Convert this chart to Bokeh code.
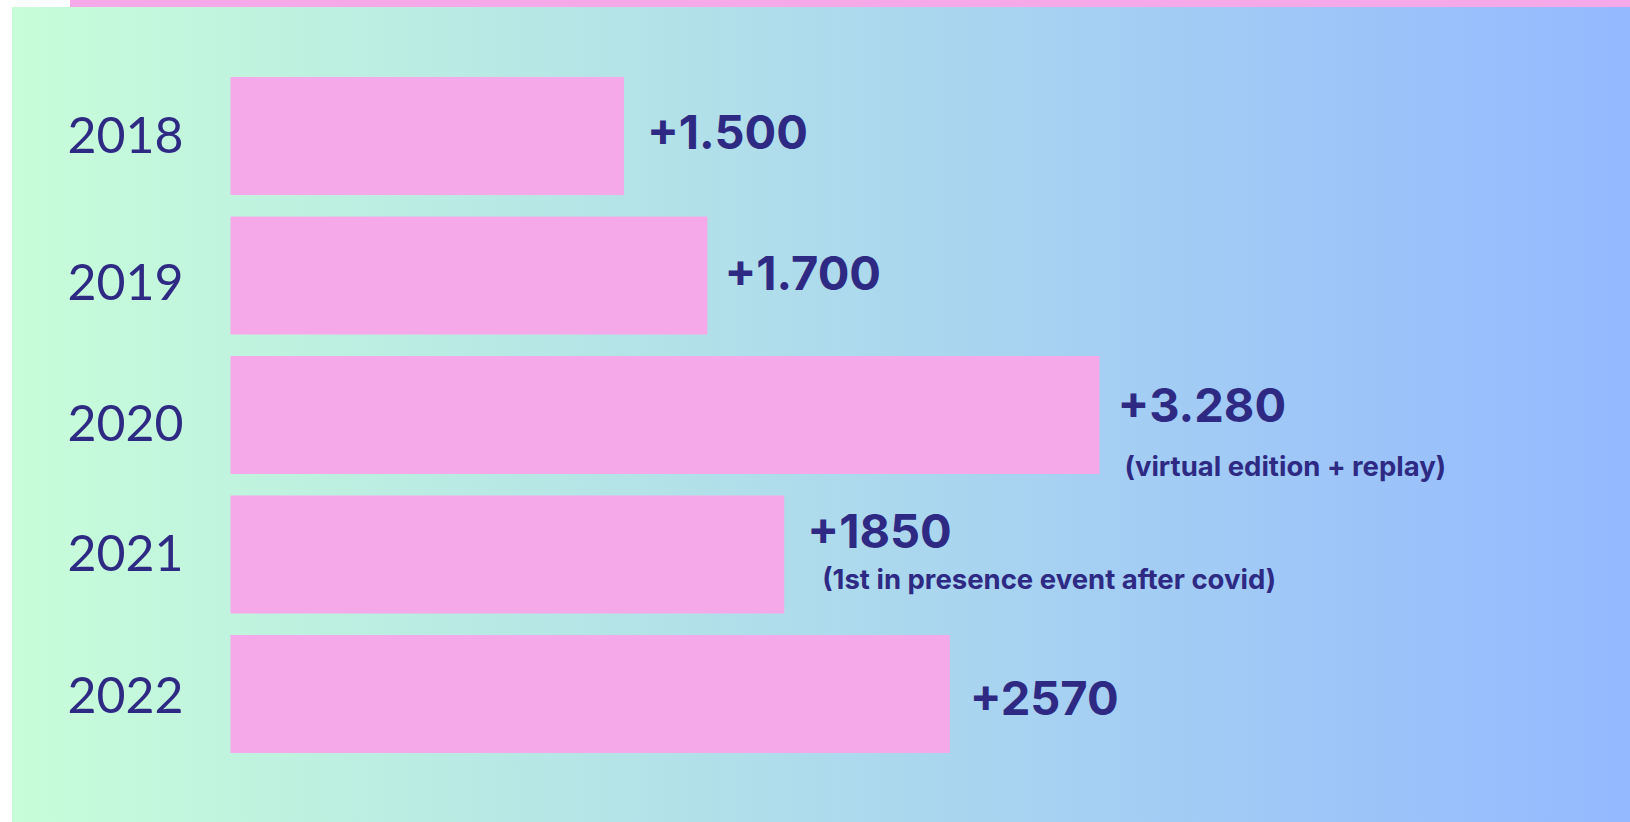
from bokeh.plotting import figure
from bokeh.models import FactorRange, Range1d, ColumnDataSource
from bokeh.core.properties import value
from bokeh.embed import file_html
from bokeh.resources import INLINE

# ---------------- data ----------------
years = ["2018", "2019", "2020", "2021", "2022"]
bar_values = [1485, 1800, 3280, 2090, 2715]          # bar lengths
value_labels = ["+1.500", "+1.700", "+3.280", "+1850", "+2570"]
notes = ["", "", "(virtual edition + replay)", "(1st in presence event after covid)", ""]

# ---------------- style / layout ----------------
W, H = 1630, 822
TOP = 7
NAVY = "#2E2A84"
PINK = "#F6A9E9"
GRAD_LEFT = "rgb(200,253,217)"
GRAD_RIGHT = "rgb(148,185,255)"

year_dy = [-1, 7, 8, -2, 1]
label_dx = [23, 17, 18, 23, 20]
label_dy = [-4, -2, -10, -24, 4]
note_dx = [0, 0, 25, 38, 0]
note_dy = [0, 0, 51, 24, 0]

src = ColumnDataSource(dict(
    y=years, v=bar_values, lab=value_labels, note=notes,
    zero=[0] * len(years),
    ydy=year_dy, ldx=label_dx, ldy=label_dy, ndx=note_dx, ndy=note_dy,
))

background_css = (
    f"linear-gradient({PINK},{PINK}) 70px 0px / {W - 70}px {TOP}px no-repeat, "
    f"linear-gradient(to right, {GRAD_LEFT}, {GRAD_RIGHT}) 12px {TOP}px / {W - 12}px {H - TOP}px no-repeat, "
    "white"
)

p = figure(
    width=W, height=H,
    x_range=Range1d(-868, 5284),
    y_range=FactorRange(factors=years[::-1], range_padding=0.421,
                        range_padding_units="absolute"),
    output_backend="svg", toolbar_location=None,
    x_axis_location=None, y_axis_location=None,
    min_border_left=0, min_border_right=0, min_border_bottom=0,
    min_border_top=TOP,
    border_fill_alpha=0, background_fill_alpha=0,
    outline_line_color=None,
    styles={"background": background_css},
)
p.grid.visible = False

# bars
p.hbar(y="y", left="zero", right="v", height=0.846, source=src,
       fill_color=PINK, line_color=None)

# year labels
p.text(x="zero", y="y", text="y", source=src, x_offset=-105, y_offset="ydy",
       text_align="center", text_baseline="middle",
       text_font=value("Lato"), text_font_size="50px", text_color=NAVY)

# value labels
p.text(x="v", y="y", text="lab", source=src, x_offset="ldx", y_offset="ldy",
       text_align="left", text_baseline="middle",
       text_font=value("Inter"), text_font_style="bold",
       text_font_size="47px", text_color=NAVY)

# notes
p.text(x="v", y="y", text="note", source=src, x_offset="ndx", y_offset="ndy",
       text_align="left", text_baseline="middle",
       text_font=value("Inter"), text_font_style="bold",
       text_font_size="27.5px", text_color=NAVY)

open("out.html", "w").write(file_html(p, INLINE))
